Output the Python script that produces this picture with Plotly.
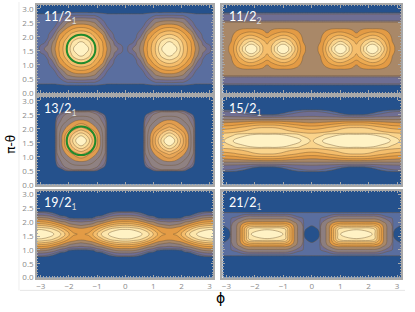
import plotly.graph_objects as go

W, H = 415, 312

# level colours, darkest to lightest
LEVELS = ["#25518c", "#5a6e9f", "#6f6e93", "#8c7e80", "#a98868", "#e39b45",
          "#edab52", "#f5be6c", "#fad48c", "#fde6ab", "#fff2c4"]
LEVELS_13 = ["#25518c", "#6f6e93", "#7f7588", "#8f8182", "#8f8182", "#e09c4e",
             "#e9a757", "#f3b86a", "#f9cf8a", "#fbe09f", "#fff2c4"]

# Each panel: phi from -pi to -pi/2, theta from 0 to pi/2 (the maps repeat by reflection)
phi_11_1 = [-3.14, -2.88, -2.75, -2.52, -2.36, -2.07, -1.96, -1.84, -1.57]
th_11_1 = [0, .26, .52, .78, 1.05, 1.18, 1.31, 1.44, 1.57]
z_11_1 = [
    [0, 0, 0, 0, 0, 0, 0, 0, 0],
    [.85, .85, .85, .85, .85, .85, .85, .85, .85],
    [1.5, 1.5, 1.5, 1.5, 1.8, 3.3, 3.4, 3.5, 3.6],
    [1.5, 1.5, 1.5, 1.9, 3, 4.7, 5.1, 5.5, 5.8],
    [1.5, 1.5, 1.8, 3.1, 4.8, 6.4, 7, 7.5, 8],
    [1.5, 1.5, 2.0, 3.7, 5.3, 7.0, 7.7, 8.3, 9.0],
    [1.5, 1.6, 2.8, 4.3, 5.8, 7.6, 8.4, 9.2, 10],
    [1.5, 2.5, 3.05, 4.6, 5.9, 7.9, 8.8, 9.7, 10.8],
    [1.5, 3, 3.1, 4.8, 6, 8, 9, 10, 11.5],
]

phi_11_2 = [-3.14, -2.83, -2.55, -2.33, -2.13, -1.93, -1.72, -1.57]
th_11_2 = [0, .28, .33, .57, .62, .85, 1.0, 1.2, 1.3, 1.4, 1.5, 1.57]
z_11_2 = [
    [0, 0, 0, 0, 0, 0, 0, 0],
    [.9, .9, .9, .9, .9, .9, .9, .9],
    [2.1, 2.1, 2.1, 2.1, 2.1, 2.1, 2.1, 2.1],
    [3, 3, 3, 3, 3, 3, 3, 3],
    [4.1, 4.1, 4.1, 4.1, 4.1, 4.1, 4.1, 4.1],
    [4.3, 4.4, 4.8, 5, 5, 5, 4.8, 4.5],
    [4.4, 4.6, 5.6, 6.1, 6.3, 6.0, 5.5, 5.0],
    [4.5, 4.9, 6.5, 7.6, 8, 7.5, 6.7, 6.2],
    [4.5, 5, 7.1, 8.5, 9, 8.4, 7.3, 6.7],
    [4.5, 5.1, 7.5, 9, 10, 9, 7.7, 7.0],
    [4.5, 5.2, 7.9, 9.9, 11.3, 9.9, 8, 7.2],
    [4.5, 5.2, 8, 10, 12, 10, 8, 7.3],
]

phi_13_1 = [-3.14, -2.57, -2.49, -2.43, -2.25, -2.07, -1.87, -1.72, -1.57]
th_13_1 = [0, .47, .54, .64, .83, 1.1, 1.27, 1.42, 1.57]
z_13_1 = [
    [0, 0, 0, 0, 0, 0, 0, 0, 0],
    [0, 0, 0, 0, 0, 0, 0, 0, 0],
    [0, 0, 0, 0, .5, 2.5, 3, 3, 3],
    [0, 0, .1, .6, 2.6, 3.3, 3.5, 3.6, 3.6],
    [0, 0, .3, 2, 3.2, 3.9, 4.6, 4.9, 5],
    [0, 0, .7, 2.9, 4.2, 5.2, 6.0, 6.7, 7.2],
    [0, 0, .8, 3, 4.7, 6.1, 7.6, 8.3, 8.8],
    [0, 0, .8, 3, 5, 6.8, 8.4, 9.7, 10.3],
    [0, 0, .8, 3, 5, 7, 9, 10.4, 12],
]

phi_15_1 = [-3.14, -2.75, -2.36, -1.96, -1.57]
th_15_1 = [0, .45, .52, .62, .70, .81, .93, 1.01, 1.10, 1.30, 1.34, 1.57]
z_15_1 = [
    [0, 0, 0, 0, 0],
    [.5, .4, .1, 0, 0],
    [2, 1.8, .8, .2, .1],
    [2.6, 2.5, 2, .9, .5],
    [3, 2.9, 2.8, 2.6, 2.5],
    [4, 4, 4, 4, 4],
    [5, 5.2, 5.5, 5.9, 6],
    [5.7, 5.9, 6.4, 6.9, 7],
    [6.5, 6.8, 7.3, 7.9, 8],
    [8, 8.2, 8.5, 8.9, 8.9],
    [8.2, 8.8, 9.7, 10, 10],
    [8.8, 10.2, 10.8, 11.2, 11.5],
]

phi_19_1 = [-3.14, -2.84, -2.54, -2.29, -2.14, -1.99, -1.84, -1.57]
th_19_1 = [0, .75, .79, .89, .97, 1.05, 1.12, 1.19, 1.25, 1.32, 1.40, 1.57]
z_19_1 = [
    [0, 0, 0, 0, 0, 0, 0, 0],
    [.5, .5, .2, 0, 0, 0, 0, 0],
    [2, 1.9, .5, .1, 0, 0, 0, 0],
    [3, 2.9, 2.3, .6, .2, 0, 0, 0],
    [4, 3.9, 3.2, 2.4, 2, .6, .2, .1],
    [5, 4.9, 4.1, 3.3, 3, 2.5, 2.2, 2],
    [6, 5.8, 5, 4.1, 3.9, 3.3, 3.1, 2.9],
    [7, 6.8, 6, 5, 4.6, 4, 3.7, 3.5],
    [8, 7.7, 6.9, 5.8, 5.1, 4.6, 4.3, 3.9],
    [9, 8.7, 8, 6.8, 6, 5.3, 5, 4.7],
    [10, 9.8, 9, 7.8, 6.9, 6, 5.5, 5.3],
    [11.5, 11, 10, 9, 8, 7, 6.2, 5.8],
]

phi_21_1 = [-3.14, -2.87, -2.83, -2.64, -2.52, -2.37, -2.22, -2.13, -1.57]
th_21_1 = [0, .75, .79, .92, 1.02, 1.12, 1.18, 1.24, 1.3, 1.35, 1.41, 1.57]
z_21_1 = [
    [0, 0, 0, 0, 0, 0, 0, 0, 0],
    [.5, .5, .5, .5, .5, .5, .5, .5, .5],
    [1, 1, 1, 1, 1, 1, 1, 1, 1],
    [1.5, 1.5, 1.6, 1.8, 2.2, 2.8, 3, 3, 3],
    [1.4, 1.5, 2.1, 2.8, 3.3, 3.7, 4, 4, 4],
    [1.3, 1.4, 2.6, 3.5, 3.9, 4.6, 5, 5, 5],
    [1.2, 1.4, 2.8, 3.8, 4.4, 5.3, 5.8, 6, 6],
    [1.1, 1.3, 2.9, 3.9, 4.7, 6, 6.8, 7, 7],
    [.9, 1.2, 3, 4, 4.9, 6.5, 7.7, 8, 8],
    [.7, 1.2, 3, 4, 5, 6.9, 8.6, 8.9, 9],
    [.5, 1.1, 3, 4, 5, 7, 9, 9.6, 10],
    [.3, 1, 3, 4, 5, 7, 9, 10, 11.5],
]

label_11_1 = "11/2"
label_11_2 = "11/2"
label_13_1 = "13/2"
label_15_1 = "15/2"
label_19_1 = "19/2"
label_21_1 = "21/2"
subs = ["1", "2", "1", "1", "1", "1"]
x_ticks = [-3, -2, -1, 0, 1, 2, 3]
y_ticks = [0, .5, 1, 1.5, 2, 2.5, 3]
y_tick_labels = ["0.0", "0.5", "1.0", "1.5", "2.0", "2.5", "3.0"]

circle_center = (-1.57, 1.57)
circle_radius = 0.51

PANELS = [
    (phi_11_1, th_11_1, z_11_1, label_11_1, LEVELS, (36, 213, 3, 93)),
    (phi_11_2, th_11_2, z_11_2, label_11_2, LEVELS, (222, 401, 3, 93)),
    (phi_13_1, th_13_1, z_13_1, label_13_1, LEVELS_13, (36, 213, 97, 187)),
    (phi_15_1, th_15_1, z_15_1, label_15_1, LEVELS, (222, 401, 97, 187)),
    (phi_19_1, th_19_1, z_19_1, label_19_1, LEVELS, (36, 213, 193, 282)),
    (phi_21_1, th_21_1, z_21_1, label_21_1, LEVELS, (222, 401, 193, 282)),
]


def unfold(phi, th, rows):
    a = phi + [-3.14 - p for p in reversed(phi[:-1])]
    x = a + [-p for p in reversed(a[:-1])]
    y = th + [3.14 - t for t in reversed(th[:-1])]
    full = []
    for r in rows + rows[-2::-1]:
        r1 = r + r[-2::-1]
        full.append(r1 + r1[-2::-1])
    return x, y, full


def scale(colors):
    n = len(colors)
    s = []
    for i, c in enumerate(colors):
        s += [[i / n, c], [(i + 1) / n, c]]
    return s


fig = go.Figure()
annotations = []
shapes = [
    dict(type="line", xref="paper", yref="paper", x0=19 / W, x1=405 / W, y0=1 - 295 / H, y1=1 - 295 / H,
         line=dict(color="#e6e6e6", width=1)),
    dict(type="line", xref="paper", yref="paper", x0=18 / W, x1=18 / W, y0=1 - 295 / H, y1=1,
         line=dict(color="#eeeeee", width=1)),
]
layout = {}
GRAY = "#8a8a8a"
for i, (phi, th, rows, label, colors, box) in enumerate(PANELS):
    n = "" if i == 0 else str(i + 1)
    x, y, z = unfold(phi, th, rows)
    fig.add_trace(go.Contour(
        x=x, y=y, z=z, xaxis="x" + n, yaxis="y" + n,
        autocontour=False, zauto=False, zmin=0, zmax=11,
        contours=dict(start=1, end=10, size=1, coloring="fill", showlines=True),
        line=dict(color="rgba(110,85,50,0.6)", width=0.7, smoothing=1.3),
        colorscale=scale(colors), showscale=False, hoverinfo="skip",
    ))
    x0, x1, yt, yb = box
    axis = dict(showgrid=False, zeroline=False, showline=True, linecolor="#a8a8a8",
                linewidth=1.5, mirror="allticks", ticks="inside", ticklen=3,
                tickcolor="#a8a8a8", tickwidth=0.7,
                minor=dict(dtick=.1, ticks="inside", ticklen=1.5, tickcolor="#a8a8a8", tickwidth=0.6),
                tickfont=dict(family="Open Sans", size=8, color=GRAY))
    layout["xaxis" + n] = dict(axis, domain=[x0 / W, x1 / W], range=[-3.14, 3.14], anchor="y" + n,
                               tickvals=x_ticks, showticklabels=i >= 4)
    layout["yaxis" + n] = dict(axis, domain=[1 - yb / H, 1 - yt / H], range=[0, 3.14], anchor="x" + n,
                               tickvals=y_ticks, ticktext=y_tick_labels, showticklabels=i % 2 == 0)
    annotations.append(dict(
        text=f'{label}<sub><span style="color:#d8d8d8">{subs[i]}</span></sub>',
        xref="paper", yref="paper", x=(x0 + 5) / W, y=1 - (yt + 13) / H,
        xanchor="left", yanchor="middle", showarrow=False,
        font=dict(family="Lato", size=12.5, color="white"),
    ))
    if i in (0, 2):
        cx, cy = circle_center
        shapes.append(dict(type="circle", xref="x" + n, yref="y" + n,
                           x0=cx - circle_radius, x1=cx + circle_radius,
                           y0=cy - circle_radius, y1=cy + circle_radius,
                           line=dict(color="#1f8a2c", width=2)))

annotations.append(dict(text="π-θ", xref="paper", yref="paper", x=10 / W, y=1 - 145 / H,
                        xanchor="center", yanchor="middle", textangle=-90, showarrow=False,
                        font=dict(family="DejaVu Sans", size=12, color="black")))
annotations.append(dict(text="ϕ", xref="paper", yref="paper", x=220 / W, y=1 - 303 / H,
                        xanchor="center", yanchor="middle",
                        showarrow=False, font=dict(family="DejaVu Sans", size=14, color="black")))

fig.update_layout(width=W, height=H, margin=dict(l=0, r=0, t=0, b=0),
                  paper_bgcolor="white", plot_bgcolor="white", showlegend=False,
                  annotations=annotations, shapes=shapes, **layout)
fig.write_html("out.html", config=dict(displayModeBar=False),
               post_script="document.body.style.margin='0';document.documentElement.style.overflow='hidden';")
